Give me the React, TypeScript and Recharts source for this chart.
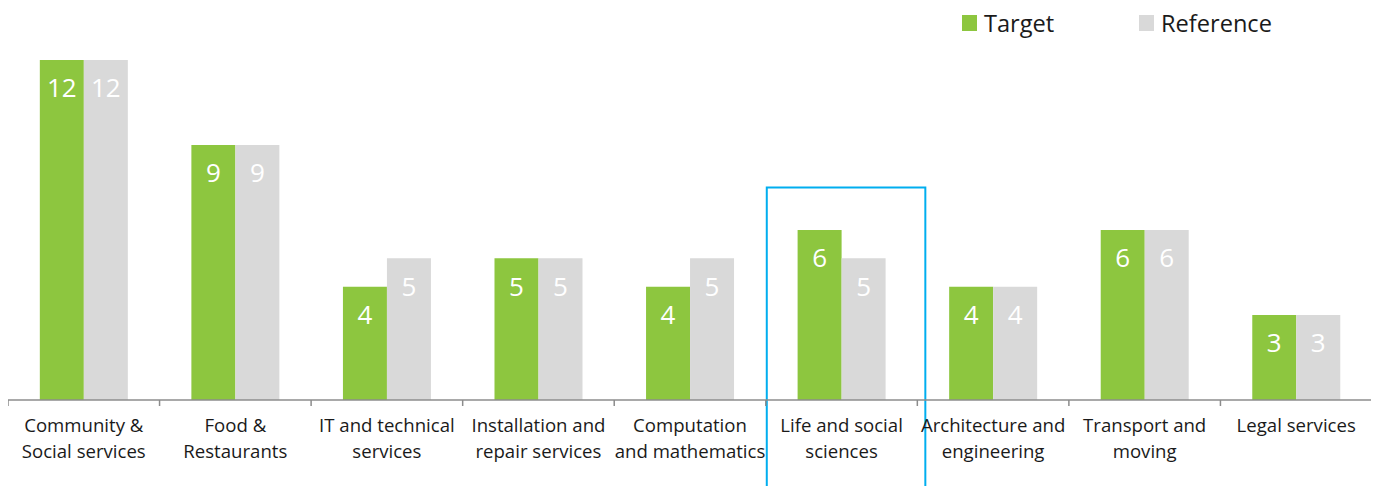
import React from "react";
import { BarChart, Bar, XAxis, YAxis, LabelList, Legend, ReferenceArea } from "recharts";

const categories = [
  "Community & Social services",
  "Food & Restaurants",
  "IT and technical services",
  "Installation and repair services",
  "Computation and mathematics",
  "Life and social sciences",
  "Architecture and engineering",
  "Transport and moving",
  "Legal services",
];
const targetValues = [12, 9, 4, 5, 4, 6, 4, 6, 3];
const referenceValues = [12, 9, 5, 5, 5, 5, 4, 6, 3];
const tickLabelLines = [
  ["Community &", "Social services"],
  ["Food &", "Restaurants"],
  ["IT and technical", "services"],
  ["Installation and", "repair services"],
  ["Computation", "and mathematics"],
  ["Life and social", "sciences"],
  ["Architecture and", "engineering"],
  ["Transport and", "moving"],
  ["Legal services"],
];
const seriesNames = ["Target", "Reference"];
const highlightCategory = "Life and social sciences";
const highlightTop = 7.5;
const highlightBottom = -4;

const GREEN = "#8dc63f";
const GRAY = "#d9d9d9";
const AXIS = "#8c8c8c";
const FONT = "'Open Sans', sans-serif";

const data = categories.map((name, i) => ({
  name,
  target: targetValues[i],
  reference: referenceValues[i],
}));

const CustomTick = (props: any) => {
  const { x, y, payload, index, visibleTicksCount } = props;
  const half = payload && typeof payload.offset === "number" && payload.offset > 0 ? payload.offset : 75.8;
  const lines = tickLabelLines[index] || [String(payload.value)];
  return (
    <g>
      <line x1={x - half} x2={x - half} y1={y} y2={y + 6} stroke={AXIS} strokeWidth={1.5} />
      {index === visibleTicksCount - 1 && (
        <line x1={x + half} x2={x + half} y1={y} y2={y + 6} stroke={AXIS} strokeWidth={1.5} />
      )}
      <text textAnchor="middle" fontSize={18.6} fontFamily={FONT} fill="#1a1a1a">
        {lines.map((l, i) => (
          <tspan key={i} x={x} y={y + 32 + i * 26}>
            {l}
          </tspan>
        ))}
      </text>
    </g>
  );
};

const LegendContent = () => (
  <div style={{ display: "flex", fontFamily: FONT, fontSize: 23.6, lineHeight: "30px", color: "#1a1a1a" }}>
    {seriesNames.map((n, i) => (
      <div key={n} style={{ display: "flex", alignItems: "flex-start", width: i === 0 ? 177 : "auto" }}>
        <div style={{ width: 15, height: 16, marginTop: 7, marginRight: 7, background: i === 0 ? GREEN : GRAY }} />
        <span>{n}</span>
      </div>
    ))}
  </div>
);

const HighlightShape = (props: any) => {
  const { x, y, width, height } = props;
  return <rect x={x + 1} y={y} width={width + 7} height={height} fill="none" stroke="#00aeef" strokeWidth={2} />;
};

export default function App() {
  return (
    <BarChart
      width={1371}
      height={478}
      data={data}
      margin={{ top: 52, right: 7, bottom: 0, left: 0 }}
      barCategoryGap="21%"
      barGap={0}
    >
      <XAxis
        dataKey="name"
        height={86}
        interval={0}
        tickLine={false}
        tickSize={0}
        tickMargin={0}
        axisLine={{ stroke: AXIS, strokeWidth: 1.5 }}
        tick={<CustomTick />}
      />
      <YAxis hide domain={[0, 12]} />
      <Legend
        layout="horizontal"
        verticalAlign="middle"
        align="center"
        wrapperStyle={{ top: 0, left: 954, width: 400 }}
        content={<LegendContent />}
      />
      <Bar dataKey="target" name={seriesNames[0]} fill={GREEN} isAnimationActive={false}>
        <LabelList dataKey="target" position="insideTop" offset={19} fill="#ffffff" fontSize={26} fontFamily={FONT} />
      </Bar>
      <Bar dataKey="reference" name={seriesNames[1]} fill={GRAY} isAnimationActive={false}>
        <LabelList dataKey="reference" position="insideTop" offset={19} fill="#ffffff" fontSize={26} fontFamily={FONT} />
      </Bar>
      <ReferenceArea
        x1={highlightCategory}
        x2={highlightCategory}
        y1={highlightBottom}
        y2={highlightTop}
        ifOverflow="visible"
        shape={<HighlightShape />}
      />
    </BarChart>
  );
}
